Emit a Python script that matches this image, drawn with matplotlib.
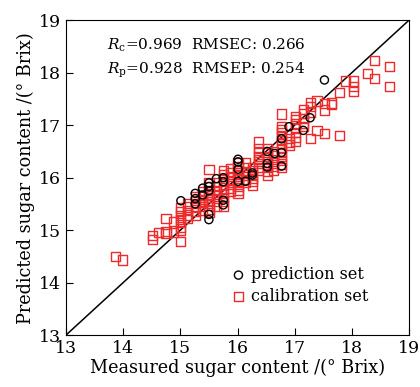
import matplotlib
matplotlib.use("Agg")
import matplotlib.pyplot as plt

plt.rcParams['font.family'] = ['DejaVu Serif']
plt.rcParams['mathtext.fontset'] = 'dejavuserif'

# calibration set (measured, predicted)
cal_x = [13.87, 13.99,
         14.51, 14.51, 14.62, 14.75, 14.75, 14.75, 14.88, 14.88,
         15.01, 15.01, 15.01, 15.01, 15.01, 15.01, 15.01, 15.01,
         15.13, 15.13, 15.13, 15.13, 15.13,
         15.26, 15.26, 15.26, 15.26, 15.26, 15.26,
         15.39, 15.39, 15.39, 15.39, 15.39, 15.39,
         15.50, 15.50, 15.50, 15.50, 15.50, 15.50, 15.50, 15.50, 15.50, 15.50,
         15.63, 15.63, 15.63, 15.63, 15.63, 15.63, 15.63,
         15.75, 15.75, 15.75, 15.75, 15.75, 15.75, 15.75, 15.75, 15.75, 15.75,
         15.88, 15.88, 15.88, 15.88, 15.88, 15.88, 15.88,
         16.01, 16.01, 16.01, 16.01, 16.01, 16.01, 16.01, 16.01, 16.01,
         16.14, 16.14, 16.14, 16.14, 16.14, 16.14,
         16.26, 16.26, 16.26, 16.26, 16.26, 16.26,
         16.37, 16.37, 16.37, 16.37, 16.37, 16.37, 16.37, 16.37,
         16.52, 16.52, 16.52, 16.52, 16.52, 16.52, 16.52, 16.52,
         16.63, 16.63, 16.63, 16.63, 16.63, 16.63,
         16.77, 16.77, 16.77, 16.77, 16.77, 16.77, 16.77, 16.77, 16.77, 16.77, 16.77, 16.77, 16.77,
         16.90, 16.90, 16.90,
         17.02, 17.02, 17.02, 17.02, 17.02, 17.02, 17.02,
         17.16, 17.16, 17.16, 17.16, 17.16,
         17.27, 17.27, 17.27, 17.27,
         17.39, 17.39, 17.52, 17.52, 17.52, 17.64, 17.64, 17.78, 17.78,
         17.89, 18.03, 18.03, 18.03, 18.27, 18.40, 18.40, 18.66, 18.66]
cal_y = [14.50, 14.43,
         14.90, 14.82, 14.96, 15.22, 14.97, 14.93, 15.16, 14.96,
         15.42, 15.35, 15.28, 15.21, 15.14, 15.06, 14.99, 14.78,
         15.51, 15.44, 15.37, 15.29, 15.22,
         15.64, 15.57, 15.50, 15.43, 15.36, 15.28,
         15.73, 15.66, 15.59, 15.52, 15.45, 15.38,
         16.15, 15.90, 15.83, 15.76, 15.69, 15.62, 15.55, 15.48, 15.40, 15.33,
         15.90, 15.83, 15.76, 15.68, 15.61, 15.54, 15.46,
         16.13, 16.06, 15.99, 15.92, 15.85, 15.77, 15.70, 15.62, 15.54, 15.46,
         16.17, 16.10, 16.02, 15.95, 15.88, 15.80, 15.73,
         16.28, 16.21, 16.13, 16.06, 15.98, 15.91, 15.84, 15.76, 15.70,
         16.28, 16.20, 16.12, 16.05, 15.97, 15.90,
         16.20, 16.13, 16.06, 15.99, 15.92, 15.86,
         16.68, 16.55, 16.48, 16.41, 16.34, 16.27, 16.20, 16.14,
         16.55, 16.48, 16.41, 16.34, 16.26, 16.19, 16.12, 16.05,
         16.49, 16.42, 16.35, 16.28, 16.21, 16.14,
         17.21, 16.97, 16.92, 16.85, 16.78, 16.71, 16.64, 16.56, 16.48, 16.40, 16.33, 16.26, 16.20,
         16.75, 16.68, 16.62,
         17.17, 17.10, 17.02, 16.95, 16.86, 16.76, 16.69,
         17.30, 17.22, 17.13, 17.04, 16.97,
         17.42, 17.35, 17.25, 16.74,
         17.46, 16.90, 17.41, 17.29, 16.84, 17.42, 17.40, 17.62, 16.80,
         17.84, 17.84, 17.74, 17.64, 17.98, 18.23, 17.89, 18.12, 17.74]

# prediction set (measured, predicted)
pred_x = [15.01, 15.26, 15.26, 15.26, 15.39, 15.39,
          15.50, 15.50, 15.50, 15.50, 15.50, 15.63,
          15.75, 15.75, 15.75, 15.75, 16.01, 16.01, 16.01, 16.01,
          16.14, 16.26, 16.26, 16.52, 16.52, 16.52, 16.65,
          16.77, 16.77, 16.77, 16.90, 17.15, 17.27, 17.52]
pred_y = [15.56, 15.70, 15.60, 15.50, 15.80, 15.67,
          15.90, 15.83, 15.75, 15.30, 15.20, 15.98,
          16.00, 15.92, 15.57, 15.48, 16.35, 16.30, 16.16, 15.93,
          15.93, 16.09, 16.05, 16.50, 16.27, 16.20, 16.46,
          16.74, 16.48, 16.22, 16.97, 16.90, 17.14, 17.86]

stats_c = r'$R_{\rm c}$=0.969  RMSEC: 0.266'
stats_p = r'$R_{\rm p}$=0.928  RMSEP: 0.254'

fig = plt.figure(figsize=(4.2, 3.87), dpi=100)
ax = fig.add_axes([0.157, 0.134, 0.817, 0.814])

ax.plot([13, 19], [13, 19], color='black', lw=1.1, zorder=1)
ax.scatter(cal_x, cal_y, marker='s', s=44, facecolors='none',
           edgecolors='#ee2a2a', linewidths=1.0, label='calibration set', zorder=2)
ax.scatter(pred_x, pred_y, marker='o', s=34, facecolors='none',
           edgecolors='black', linewidths=1.0, label='prediction set', zorder=3)

ax.set_xlim(13, 19)
ax.set_ylim(13, 19)
ax.set_xticks(range(13, 20))
ax.set_yticks(range(13, 20))
ax.tick_params(direction='in', length=5, labelsize=12.5)
ax.set_xlabel('Measured sugar content /(° Brix)', fontsize=12.7, labelpad=1)
ax.set_ylabel('Predicted sugar content /(° Brix)', fontsize=12.7, labelpad=3)

ax.text(0.12, 0.905, stats_c, transform=ax.transAxes, fontsize=11)
ax.text(0.12, 0.83, stats_p, transform=ax.transAxes, fontsize=11)

h, l = ax.get_legend_handles_labels()
ax.legend(h[::-1], l[::-1], loc='lower right', bbox_to_anchor=(0.91, 0.065),
          frameon=False, fontsize=11.5, handletextpad=0.2, borderaxespad=0.2,
          labelspacing=0.3, handlelength=1.2)

fig.savefig('out.png', dpi=100)
